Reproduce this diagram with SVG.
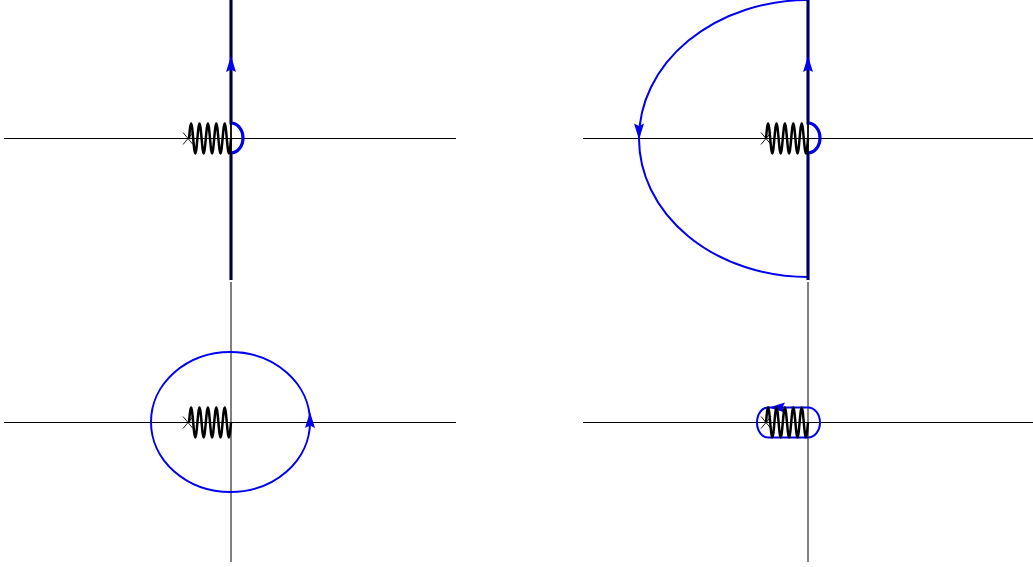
<svg xmlns="http://www.w3.org/2000/svg" width="1033" height="567" viewBox="0 0 1033 567">
<style>
.axis{stroke:#000;stroke-width:1;fill:none}
.axisb{stroke:#000;stroke-width:1.8;fill:none}
.contour{stroke:#0000ee;stroke-width:2;fill:none}
.contourv{stroke:#0000ee;stroke-width:3.2;fill:none}
.spring{stroke:#000;stroke-width:2.5;fill:none}
.pole{stroke:#000;stroke-width:0.9;fill:none}
.arrow{fill:#0000ee;stroke:none}
</style>
<defs>
<path id="spr" d="M0,0 c0.702,-7.88 1.337,-15 2.1,-15 c0.763,0 1.398,7.12 2.1,15 c0.702,7.88 1.337,15 2.1,15 c0.763,0 1.398,-7.12 2.1,-15 c0.702,-7.88 1.337,-15 2.1,-15 c0.763,0 1.398,7.12 2.1,15 c0.702,7.88 1.337,15 2.1,15 c0.763,0 1.398,-7.12 2.1,-15 c0.702,-7.88 1.337,-15 2.1,-15 c0.763,0 1.398,7.12 2.1,15 c0.702,7.88 1.337,15 2.1,15 c0.763,0 1.398,-7.12 2.1,-15 c0.702,-7.88 1.337,-15 2.1,-15 c0.763,0 1.398,7.12 2.1,15 c0.702,7.88 1.337,15 2.1,15 c0.763,0 1.398,-7.12 2.1,-15 c0.702,-7.88 1.337,-15 2.1,-15 c0.763,0 1.398,7.12 2.1,15 c0.702,7.88 1.337,15 2.1,15 c0.763,0 1.398,-7.12 2.1,-15"/>
<path id="xm" d="M-5,-6 L5,6 M-5,6 L5,-6"/>
<path id="ah" d="M0,0 L-5,16 L0,13.5 L5,16 Z"/>
</defs>

<g id="panel-top-left">
<line class="axis" x1="4" y1="138.5" x2="456" y2="138.5"/>
<path class="contourv" d="M231,280 L231,153 A12,15 0 0 0 231,123 L231,0"/>
<path class="contour" d="M231,153 A12,15 0 0 0 231,123"/>
<line class="axisb" x1="231" y1="0" x2="231" y2="280"/>
<use href="#ah" class="arrow" transform="translate(231,56)"/>
<use href="#spr" class="spring" transform="translate(189,138.5)"/>
<use href="#xm" class="pole" transform="translate(188,138.5)"/>
</g>

<g id="panel-top-right">
<line class="axis" x1="583" y1="138.5" x2="1033" y2="138.5"/>
<path class="contour" d="M808,0 A169,138.5 0 0 0 639,138.5 A169,138.5 0 0 0 808,277"/>
<path class="contourv" d="M808,280 L808,153 A12,15 0 0 0 808,123 L808,0"/>
<path class="contour" d="M808,153 A12,15 0 0 0 808,123"/>
<line class="axisb" x1="808" y1="0" x2="808" y2="280"/>
<use href="#ah" class="arrow" transform="translate(808,56)"/>
<use href="#ah" class="arrow" transform="translate(639,139.5) rotate(180)"/>
<use href="#spr" class="spring" transform="translate(766,138.5)"/>
<use href="#xm" class="pole" transform="translate(766,138.5)"/>
</g>

<g id="panel-bottom-left">
<line class="axis" x1="4" y1="422.5" x2="456" y2="422.5"/>
<line class="axis" x1="231" y1="282" x2="231" y2="562"/>
<ellipse class="contour" cx="230.5" cy="422" rx="79.5" ry="70"/>
<use href="#ah" class="arrow" transform="translate(310,412)"/>
<use href="#spr" class="spring" transform="translate(189,422.5)"/>
<use href="#xm" class="pole" transform="translate(188,422.5)"/>
</g>

<g id="panel-bottom-right">
<line class="axis" x1="583" y1="422.5" x2="1033" y2="422.5"/>
<line class="axis" x1="808" y1="282" x2="808" y2="562"/>
<path class="contour" d="M808,407.5 L768,407.5 A11,15 0 0 0 768,437.5 L808,437.5 A12,15 0 0 0 808,407.5 Z"/>
<use href="#ah" class="arrow" transform="translate(769,407.5) rotate(-90)"/>
<use href="#spr" class="spring" transform="translate(766,422.5)"/>
<use href="#xm" class="pole" transform="translate(766,422.5)"/>
</g>
</svg>
